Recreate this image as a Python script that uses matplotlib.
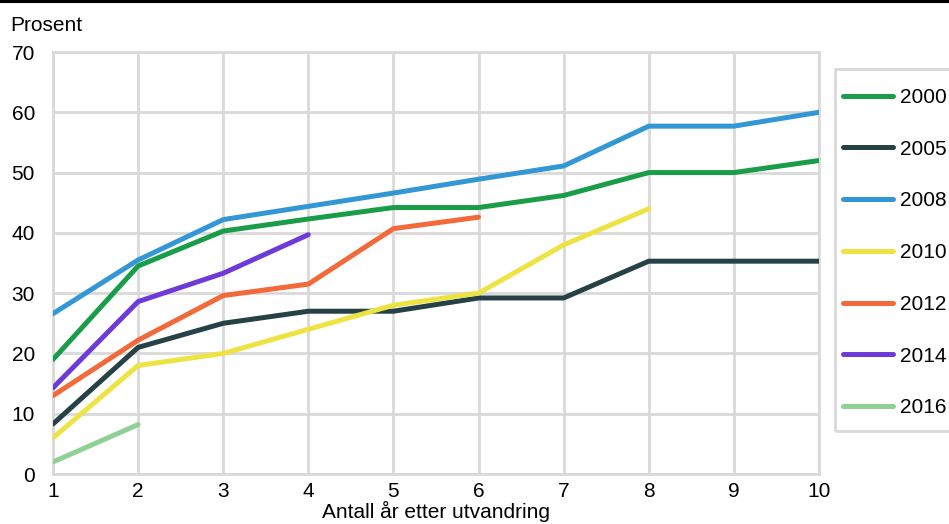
import matplotlib.pyplot as plt
from matplotlib.lines import Line2D
from matplotlib.patches import Rectangle

plt.rcParams['font.family'] = ['Liberation Sans', 'DejaVu Sans']

years_after = [1, 2, 3, 4, 5, 6, 7, 8, 9, 10]

cohorts = ['2000', '2005', '2008', '2010', '2012', '2014', '2016']
v2000 = [19.0, 34.5, 40.3, 42.3, 44.2, 44.2, 46.2, 50.0, 50.0, 52.0]
v2005 = [8.3, 21.0, 25.0, 27.0, 27.0, 29.2, 29.2, 35.3, 35.3, 35.3]
v2008 = [26.6, 35.5, 42.2, 44.4, 46.6, 48.9, 51.1, 57.7, 57.7, 60.0]
v2010 = [6.0, 18.0, 20.0, 24.0, 28.0, 30.0, 38.0, 44.0]
v2012 = [13.0, 22.2, 29.6, 31.5, 40.7, 42.6]
v2014 = [14.3, 28.6, 33.3, 39.7]
v2016 = [2.0, 8.2]
series = [v2000, v2005, v2008, v2010, v2012, v2014, v2016]

colors = ['#1a9d49', '#274247', '#3397d5', '#ede444', '#f26a3a', '#6e3bd8', '#90d095']
grid_col = '#d9d9d9'

W, H = 949, 524
fig = plt.figure(figsize=(W / 100, H / 100), dpi=100)
ax = fig.add_axes([53 / W, 1 - 474 / H, (819 - 53) / W, (474 - 52) / H])

for name, vals, c in zip(cohorts, series, colors):
    ax.plot(years_after[:len(vals)], vals, color=c, lw=3.6, label=name,
            solid_capstyle='round', zorder=3)

ax.set_xlim(1, 10)
ax.set_ylim(0, 70)
ax.set_xticks(years_after)
ax.set_yticks(range(0, 71, 10))
ax.grid(True, color=grid_col, lw=2)
ax.set_axisbelow(True)
for sp in ax.spines.values():
    sp.set_color(grid_col)
    sp.set_linewidth(2)
ax.tick_params(length=0, labelsize=15)
ax.tick_params(axis='y', pad=13)
ax.tick_params(axis='x', pad=6)
ax.set_xlabel('Antall år etter utvandring', fontsize=15, labelpad=0)

fig.text(10 / W, 1 - 31 / H, 'Prosent', fontsize=15, va='baseline')

# black rule along the top
fig.add_artist(Line2D([0, 1], [1 - 1 / H, 1 - 1 / H], color='black', lw=2.2,
                      transform=fig.transFigure))

# legend box runs off the right edge, so draw the frame by hand
fig.add_artist(Rectangle((835 / W, 1 - 431 / H), 150 / W, (431 - 69) / H,
                         transform=fig.transFigure, fill=False,
                         edgecolor=grid_col, lw=2))
fig.legend(loc='upper left', bbox_to_anchor=(843 / W, 1 - 88 / H),
           fontsize=15, frameon=False, borderaxespad=0, borderpad=0,
           labelspacing=1.57, handlelength=2.4, handletextpad=0.33)

fig.savefig('out.png', dpi=100)
